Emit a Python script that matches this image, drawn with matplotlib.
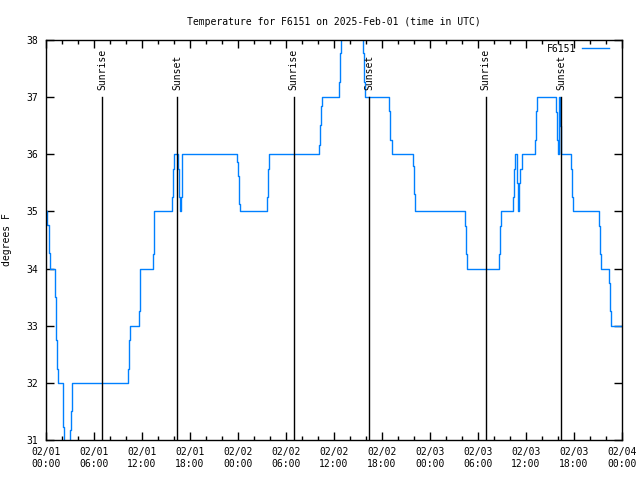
import matplotlib
matplotlib.use("Agg")
import matplotlib.pyplot as plt
import matplotlib.dates as mdates
import pandas as pd

# hours after 2025-02-01 00:00 UTC, value held until next reading
hours = [0.0, 0.16, 0.375, 0.54, 1.125, 1.29, 1.41, 1.54, 2.09, 2.16, 2.29,
         2.96, 3.09, 3.21, 3.29, 10.29, 10.41, 10.54, 11.66, 11.71, 11.79,
         13.34, 13.46, 13.54, 15.79, 15.91, 16.04, 16.54, 16.66, 16.79,
         16.875, 16.96, 17.04, 23.84, 23.96, 24.09, 24.16, 24.29, 27.59,
         27.71, 27.84, 34.16, 34.25, 34.375, 34.5, 36.66, 36.79, 36.91,
         39.66, 39.79, 39.91, 42.91, 43.04, 43.21, 45.84, 45.96, 46.125,
         52.375, 52.54, 52.66, 56.66, 56.79, 56.91, 58.41, 58.54, 58.66,
         58.84, 58.96, 59.125, 59.29, 59.46, 61.125, 61.21, 61.375, 63.71,
         63.84, 63.96, 64.125, 64.21, 64.375, 65.66, 65.79, 65.91, 69.16,
         69.29, 69.41, 70.41, 70.5, 70.625, 72.0]
temps = [35.0, 34.77, 34.27, 34.0, 33.5, 32.75, 32.25, 32.0, 31.73, 31.23, 30.8,
         31.17, 31.5, 31.82, 32.0, 32.24, 32.75, 33.0, 33.25, 33.74, 34.0,
         34.25, 34.74, 35.0, 35.26, 35.74, 36.0, 35.74, 35.26, 35.0,
         35.26, 35.74, 36.0, 35.87, 35.62, 35.37, 35.13, 35.0, 35.26,
         35.75, 36.0, 36.16, 36.51, 36.85, 37.0, 37.27, 37.77, 38.4,
         37.77, 37.27, 37.0, 36.75, 36.25, 36.0, 35.8, 35.3, 35.0,
         34.75, 34.25, 34.0, 34.25, 34.75, 35.0, 35.26, 35.74, 36.0,
         35.5, 35.0, 35.5, 35.74, 36.0, 36.25, 36.75, 37.0, 36.74,
         36.25, 36.0, 37.0, 36.5, 36.0, 35.75, 35.25, 35.0, 34.75,
         34.25, 34.0, 33.75, 33.25, 33.0, 33.0]

sunrise_hours = [7.0, 30.95, 54.96]
sunset_hours = [16.43, 40.42, 64.38]

base = pd.Timestamp("2025-02-01 00:00")
t = base + pd.to_timedelta(hours, unit="h")
sunrise = base + pd.to_timedelta(sunrise_hours, unit="h")
sunset = base + pd.to_timedelta(sunset_hours, unit="h")

plt.rcParams["font.family"] = "DejaVu Sans Mono"
plt.rcParams["font.size"] = 7

fig = plt.figure(figsize=(6.4, 4.8), dpi=100)
ax = fig.add_axes([46 / 640, 40 / 480, 576 / 640, 400 / 480])

ax.plot(t, temps, drawstyle="steps-post", color="#0080ff", lw=1, label="F6151")

for x in sunrise:
    ax.plot([x, x], [31, 37], color="black", lw=1)
    ax.text(x, 37.12, "Sunrise", rotation=90, ha="center", va="bottom")
for x in sunset:
    ax.plot([x, x], [31, 37], color="black", lw=1)
    ax.text(x, 37.12, "Sunset", rotation=90, ha="center", va="bottom")

ax.set_xlim(base, base + pd.Timedelta(hours=72))
ax.set_ylim(31, 38)
ax.xaxis.set_major_locator(mdates.HourLocator(byhour=range(0, 24, 6)))
ax.xaxis.set_minor_locator(mdates.HourLocator(byhour=range(0, 24, 2)))
ax.xaxis.set_major_formatter(mdates.DateFormatter("%m/%d\n%H:%M"))
ax.tick_params(which="both", direction="in", top=True, right=True, width=1)
ax.tick_params(which="major", length=6)
ax.tick_params(which="minor", length=3)
ax.tick_params(axis="x", which="major", pad=5)
ax.tick_params(axis="y", which="major", pad=6)
for s in ax.spines.values():
    s.set_linewidth(1)

ax.set_ylabel("degrees F", labelpad=10)
ax.set_title("Temperature for F6151 on 2025-Feb-01 (time in UTC)",
             fontsize=7, pad=11)
ax.legend(loc="upper right", bbox_to_anchor=(0.9896, 1.0075), frameon=False,
          markerfirst=False, handlelength=2.8, handletextpad=0.6,
          borderaxespad=0.3)

fig.savefig("out.png", dpi=100)
